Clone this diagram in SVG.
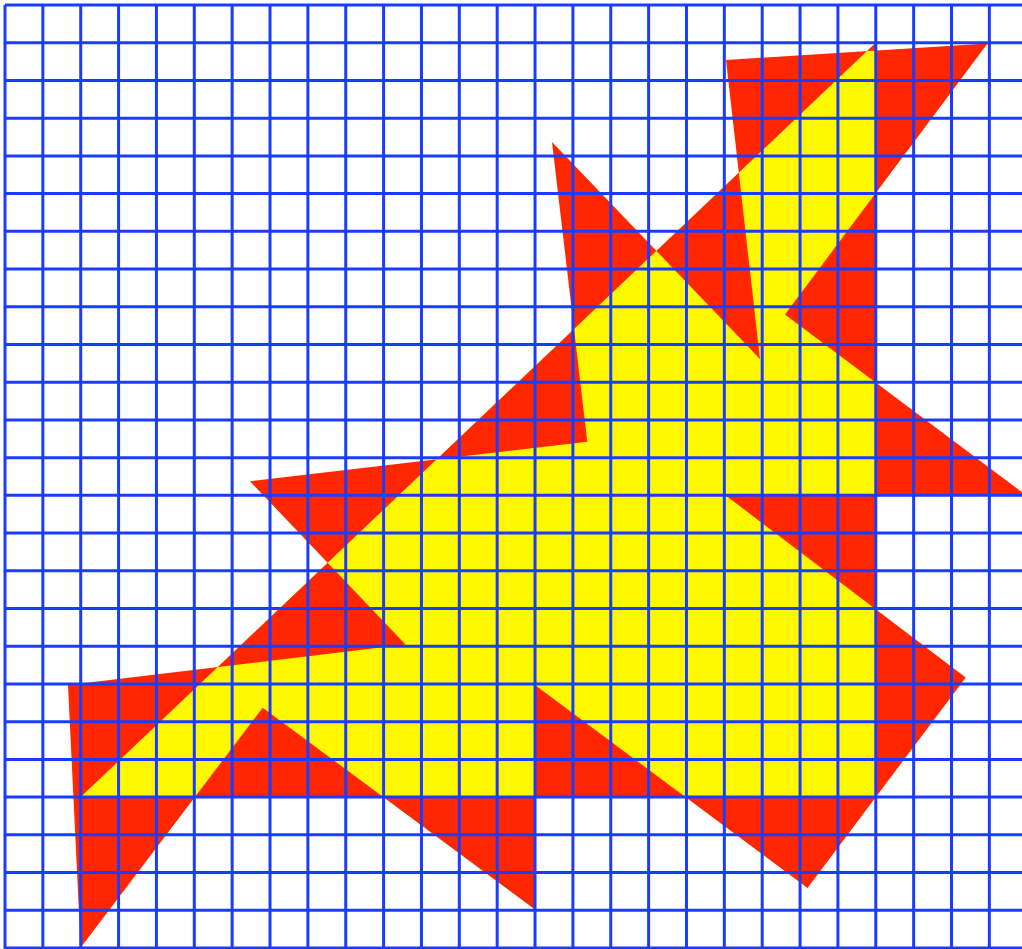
<svg xmlns="http://www.w3.org/2000/svg" width="1022" height="949" viewBox="0 0 1022 949">
<style>
.bg{fill:#ffffff}
.yel{fill:#fff800}
.red{fill:#ff2600;fill-rule:evenodd}
.grid line{stroke:#1a3cff;stroke-width:3}
</style>
<rect class="bg" x="0" y="0" width="1022" height="949"/>
<g id="yellow-triangle">
<polygon class="yel" points="80.7,797.1 875.8,42.7 875.8,797.1"/>
</g>
<g id="red-star">
<path class="red" d="M552,142 L760,359 L726,60 L987.5,43.5 L785,314.5 L1027,496 L726.5,496 L965.7,677.5 L807.5,888 L535,685 L535,909.5 L262.7,707.7 L80.7,947.5 L68,685 L405.5,644.5 L250,481.3 L587.3,441.7 Z M80.7,797.1 L875.8,42.7 L875.8,797.1 Z"/>
</g>
<g id="grid" class="grid">
<line x1="5" y1="5" x2="5" y2="949"/>
<line x1="42.86" y1="5" x2="42.86" y2="949"/>
<line x1="80.72" y1="5" x2="80.72" y2="949"/>
<line x1="118.58" y1="5" x2="118.58" y2="949"/>
<line x1="156.44" y1="5" x2="156.44" y2="949"/>
<line x1="194.3" y1="5" x2="194.3" y2="949"/>
<line x1="232.16" y1="5" x2="232.16" y2="949"/>
<line x1="270.02" y1="5" x2="270.02" y2="949"/>
<line x1="307.88" y1="5" x2="307.88" y2="949"/>
<line x1="345.74" y1="5" x2="345.74" y2="949"/>
<line x1="383.6" y1="5" x2="383.6" y2="949"/>
<line x1="421.46" y1="5" x2="421.46" y2="949"/>
<line x1="459.32" y1="5" x2="459.32" y2="949"/>
<line x1="497.18" y1="5" x2="497.18" y2="949"/>
<line x1="535.04" y1="5" x2="535.04" y2="949"/>
<line x1="572.9" y1="5" x2="572.9" y2="949"/>
<line x1="610.76" y1="5" x2="610.76" y2="949"/>
<line x1="648.62" y1="5" x2="648.62" y2="949"/>
<line x1="686.48" y1="5" x2="686.48" y2="949"/>
<line x1="724.34" y1="5" x2="724.34" y2="949"/>
<line x1="762.2" y1="5" x2="762.2" y2="949"/>
<line x1="800.06" y1="5" x2="800.06" y2="949"/>
<line x1="837.92" y1="5" x2="837.92" y2="949"/>
<line x1="875.78" y1="5" x2="875.78" y2="949"/>
<line x1="913.64" y1="5" x2="913.64" y2="949"/>
<line x1="951.5" y1="5" x2="951.5" y2="949"/>
<line x1="989.36" y1="5" x2="989.36" y2="949"/>
<line x1="5" y1="5" x2="1022" y2="5"/>
<line x1="5" y1="42.72" x2="1022" y2="42.72"/>
<line x1="5" y1="80.44" x2="1022" y2="80.44"/>
<line x1="5" y1="118.16" x2="1022" y2="118.16"/>
<line x1="5" y1="155.88" x2="1022" y2="155.88"/>
<line x1="5" y1="193.6" x2="1022" y2="193.6"/>
<line x1="5" y1="231.32" x2="1022" y2="231.32"/>
<line x1="5" y1="269.04" x2="1022" y2="269.04"/>
<line x1="5" y1="306.76" x2="1022" y2="306.76"/>
<line x1="5" y1="344.48" x2="1022" y2="344.48"/>
<line x1="5" y1="382.2" x2="1022" y2="382.2"/>
<line x1="5" y1="419.92" x2="1022" y2="419.92"/>
<line x1="5" y1="457.64" x2="1022" y2="457.64"/>
<line x1="5" y1="495.36" x2="1022" y2="495.36"/>
<line x1="5" y1="533.08" x2="1022" y2="533.08"/>
<line x1="5" y1="570.8" x2="1022" y2="570.8"/>
<line x1="5" y1="608.52" x2="1022" y2="608.52"/>
<line x1="5" y1="646.24" x2="1022" y2="646.24"/>
<line x1="5" y1="683.96" x2="1022" y2="683.96"/>
<line x1="5" y1="721.68" x2="1022" y2="721.68"/>
<line x1="5" y1="759.4" x2="1022" y2="759.4"/>
<line x1="5" y1="797.12" x2="1022" y2="797.12"/>
<line x1="5" y1="834.84" x2="1022" y2="834.84"/>
<line x1="5" y1="872.56" x2="1022" y2="872.56"/>
<line x1="5" y1="910.28" x2="1022" y2="910.28"/>
<line x1="5" y1="948" x2="1022" y2="948"/>
</g>
</svg>
